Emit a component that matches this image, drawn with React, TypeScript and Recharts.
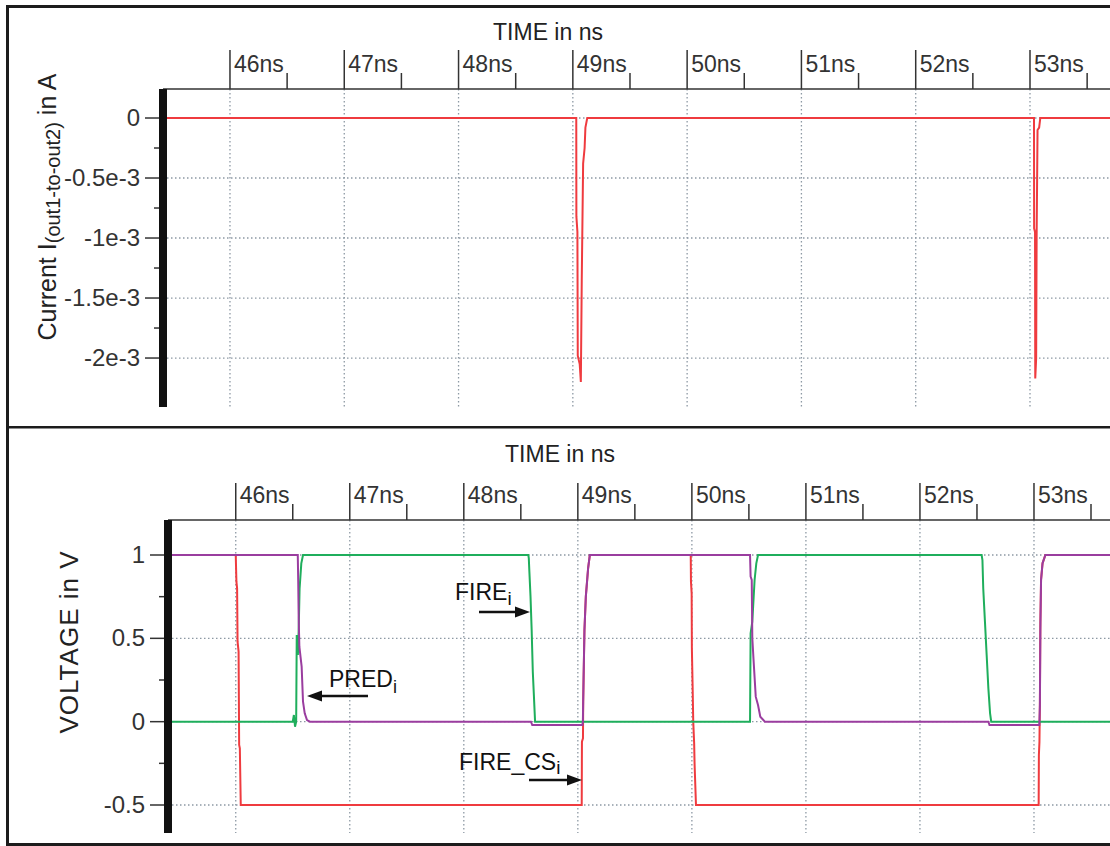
import React from 'react'
import { LineChart, Line, XAxis, YAxis, CartesianGrid } from 'recharts'

// time axis (ns)
const timeTicks = [46, 46.5, 47, 47.5, 48, 48.5, 49, 49.5, 50, 50.5, 51, 51.5, 52, 52.5, 53, 53.5]
const timeMajor = [46, 47, 48, 49, 50, 51, 52, 53]
const timeLabels = ['46ns', '47ns', '48ns', '49ns', '50ns', '51ns', '52ns', '53ns']

// upper panel: current I(out1-to-out2) in A
const curTicks = [0, -0.25e-3, -0.5e-3, -0.75e-3, -1e-3, -1.25e-3, -1.5e-3, -1.75e-3, -2e-3]
const curMajor = [0, -0.5e-3, -1e-3, -1.5e-3, -2e-3]
const curLabels = ['0', '-0.5e-3', '-1e-3', '-1.5e-3', '-2e-3']
const curT = [45.41, 49.03, 49.031, 49.04, 49.043, 49.06, 49.07, 49.078, 49.09, 49.103, 49.11, 49.126, 53.035, 53.036, 53.044, 53.046, 53.054, 53.058, 53.066, 53.08, 53.09, 53.88]
const curA = [0, 0, -0.82e-3, -0.95e-3, -1.98e-3, -2.05e-3, -2.2e-3, -1.35e-3, -0.38e-3, -0.25e-3, -0.08e-3, 0, 0, -0.92e-3, -0.95e-3, -2.17e-3, -2.0e-3, -1.0e-3, -0.1e-3, -0.08e-3, 0, 0]

// lower panel: voltages in V
const voltTicks = [1, 0.75, 0.5, 0.25, 0, -0.25, -0.5]
const voltMajor = [1, 0.5, 0, -0.5]
const voltLabels = ['1', '0.5', '0', '-0.5']

const fireCsT = [45.4, 46.0, 46.006, 46.012, 46.016, 46.025, 46.03, 46.036, 46.044, 49.034, 49.036, 49.045, 49.047, 49.058, 49.07, 49.09, 49.105, 49.99, 49.992, 49.998, 50.0, 50.006, 50.012, 50.02, 50.024, 50.036, 53.041, 53.043, 53.048, 53.052, 53.056, 53.062, 53.075, 53.1, 53.85]
const fireCsV = [1, 1, 0.84, 0.8, 0.48, 0.42, -0.14, -0.16, -0.5, -0.5, -0.12, -0.1, 0.12, 0.55, 0.75, 0.92, 1, 1, 0.84, 0.77, 0.44, 0.23, 0.0, -0.13, -0.26, -0.5, -0.5, -0.2, -0.12, 0.12, 0.6, 0.85, 0.95, 1, 1]

const fireT = [45.4, 46.5, 46.51, 46.52, 46.53, 46.535, 46.545, 46.552, 46.56, 46.575, 46.59, 48.566, 48.57, 48.575, 48.585, 48.595, 48.605, 48.615, 48.625, 50.51, 50.515, 50.53, 50.55, 50.565, 50.58, 52.541, 52.548, 52.555, 52.57, 52.585, 52.6, 52.615, 52.625, 53.85]
const fireV = [0, 0, 0.04, -0.03, 0.0, 0.52, 0.4, 0.55, 0.8, 0.95, 1, 1, 0.98, 0.9, 0.75, 0.55, 0.3, 0.15, 0, 0, 0.53, 0.6, 0.85, 0.95, 1, 1, 0.97, 0.8, 0.6, 0.4, 0.2, 0.05, 0, 0]

const predT = [45.4, 46.544, 46.548, 46.552, 46.558, 46.578, 46.59, 46.605, 46.625, 46.65, 48.589, 48.6, 49.04, 49.044, 49.05, 49.058, 49.07, 49.09, 49.105, 50.51, 50.515, 50.525, 50.53, 50.54, 50.56, 50.58, 50.6, 50.64, 52.6, 52.61, 53.047, 53.052, 53.056, 53.062, 53.075, 53.1, 53.85]
const predV = [1, 1, 0.84, 0.62, 0.45, 0.33, 0.12, 0.05, 0.01, 0, 0, -0.02, -0.02, 0, 0.25, 0.55, 0.75, 0.92, 1, 1, 0.87, 0.85, 0.5, 0.38, 0.15, 0.1, 0.03, 0, 0, -0.02, -0.02, 0.1, 0.55, 0.85, 0.95, 1, 1]

const zip = (t: number[], v: number[]) => t.map((x, i) => ({ t: x, v: v[i] }))

const FONT = '"Liberation Sans", Arial, Helvetica, sans-serif'
const AXIS = '#333'
const GRID = '#8d99a4'
const FRAME = '#1c1c1c'

function timeTick(axisY: number, majorLen: number) {
  return (props: any) => {
    const { x, payload } = props
    const v = payload.value
    const k = timeMajor.indexOf(v)
    return (
      <g>
        <line x1={x} x2={x} y1={axisY - (k >= 0 ? majorLen : 16)} y2={axisY} stroke={AXIS} strokeWidth={1.5} />
        {k >= 0 && (
          <text x={x + 4} y={axisY - 17} fontSize={23} fill={AXIS} fontFamily={FONT}>
            {timeLabels[k]}
          </text>
        )}
      </g>
    )
  }
}

function valueTick(barLeft: number, majors: number[], labels: string[]) {
  return (props: any) => {
    const { y, payload } = props
    const k = majors.findIndex((m) => Math.abs(m - payload.value) < 1e-9)
    return (
      <g>
        <line x1={barLeft - (k >= 0 ? 14 : 5)} x2={barLeft} y1={y} y2={y} stroke={AXIS} strokeWidth={1.5} />
        {k >= 0 && (
          <text x={barLeft - 19} y={y + 8} textAnchor="end" fontSize={24} fill={AXIS} fontFamily={FONT}>
            {labels[k]}
          </text>
        )}
      </g>
    )
  }
}

function Arrow({ x1, x2, y }: { x1: number; x2: number; y: number }) {
  const dir = x2 > x1 ? 1 : -1
  return (
    <g>
      <line x1={x1} x2={x2 - dir * 10} y1={y} y2={y} stroke="#111" strokeWidth={2.5} />
      <polygon points={`${x2},${y} ${x2 - dir * 15},${y - 5.5} ${x2 - dir * 15},${y + 5.5}`} fill="#111" />
    </g>
  )
}

export default function App() {
  const curData = zip(curT, curA)
  const fireCsData = zip(fireCsT, fireCsV)
  const fireData = zip(fireT, fireV)
  const predData = zip(predT, predV)

  return (
    <div style={{ position: 'fixed', left: 0, top: 0, width: 1110, height: 846, overflow: 'hidden', background: '#fff' }}>
      {/* upper panel */}
      <div style={{ position: 'absolute', left: 0, top: 0 }}>
        <LineChart width={1130} height={420} margin={{ top: 49, right: 0, bottom: 13, left: 103 }}>
          <CartesianGrid stroke={GRID} strokeWidth={1.3} strokeDasharray="1.5 2.5" verticalValues={timeMajor} horizontalValues={curMajor} />
          <XAxis
            type="number"
            dataKey="t"
            orientation="top"
            height={40}
            domain={[45.414, 53.875]}
            allowDataOverflow
            ticks={timeTicks}
            interval={0}
            tickLine={false}
            axisLine={{ stroke: AXIS, strokeWidth: 1.5 }}
            tick={timeTick(89, 39)}
          />
          <YAxis
            type="number"
            dataKey="v"
            width={60}
            domain={[-2.408e-3, 0.2417e-3]}
            allowDataOverflow
            ticks={curTicks}
            interval={0}
            tickLine={false}
            axisLine={{ stroke: '#111', strokeWidth: 8 }}
            tick={valueTick(159, curMajor, curLabels)}
          />
          <Line data={curData} dataKey="v" type="linear" stroke="#ef3b3f" strokeWidth={2} dot={false} isAnimationActive={false} />
        </LineChart>
      </div>

      {/* lower panel */}
      <div style={{ position: 'absolute', left: 0, top: 430 }}>
        <LineChart width={1130} height={410} margin={{ top: 50, right: 0, bottom: 7, left: 108 }}>
          <CartesianGrid stroke={GRID} strokeWidth={1.3} strokeDasharray="1.5 2.5" verticalValues={timeMajor} horizontalValues={voltMajor} />
          <XAxis
            type="number"
            dataKey="t"
            orientation="top"
            height={40}
            domain={[45.406, 53.842]}
            allowDataOverflow
            ticks={timeTicks}
            interval={0}
            tickLine={false}
            axisLine={{ stroke: AXIS, strokeWidth: 1.5 }}
            tick={timeTick(90, 37)}
          />
          <YAxis
            type="number"
            dataKey="v"
            width={60}
            domain={[-0.668, 1.21]}
            allowDataOverflow
            ticks={voltTicks}
            interval={0}
            tickLine={false}
            axisLine={{ stroke: '#111', strokeWidth: 8 }}
            tick={valueTick(164, voltMajor, voltLabels)}
          />
          <Line data={fireCsData} dataKey="v" type="linear" stroke="#ef3b3f" strokeWidth={2} dot={false} isAnimationActive={false} />
          <Line data={fireData} dataKey="v" type="linear" stroke="#1fae5c" strokeWidth={2} dot={false} isAnimationActive={false} />
          <Line data={predData} dataKey="v" type="linear" stroke="#9a3d9f" strokeWidth={2} dot={false} isAnimationActive={false} />
        </LineChart>
      </div>

      {/* titles, axis names, annotations and the frame */}
      <svg width={1110} height={846} style={{ position: 'absolute', zIndex: 3, left: 0, top: 0, pointerEvents: 'none' }} fontFamily={FONT}>
        <rect x={6} y={5} width={1200} height={3} fill={FRAME} />
        <rect x={6} y={5} width={3} height={841} fill={FRAME} />
        <rect x={6} y={426} width={1200} height={2.5} fill={FRAME} />
        <rect x={6} y={843} width={1200} height={3} fill={FRAME} />

        <text x={548} y={40} textAnchor="middle" fontSize={23} fill="#222">TIME in ns</text>
        <text x={560} y={462} textAnchor="middle" fontSize={23} fill="#222">TIME in ns</text>

        <text transform="translate(56,207) rotate(-90)" textAnchor="middle" fontSize={25} fill="#222">
          Current I<tspan fontSize={20} dy={4}>(out1-to-out2)</tspan>
          <tspan dy={-4}> in A</tspan>
        </text>
        <text transform="translate(78,642) rotate(-90)" textAnchor="middle" fontSize={26} letterSpacing={1} fill="#222">
          VOLTAGE in V
        </text>

        <text x={455} y={600} fontSize={23} fill="#111">
          FIRE<tspan fontSize={19} dy={5}>i</tspan>
        </text>
        <Arrow x1={479} x2={530} y={612} />

        <text x={329} y={687} fontSize={23} fill="#111">
          PRED<tspan fontSize={18} dy={6}>i</tspan>
        </text>
        <Arrow x1={368} x2={307} y={696} />

        <text x={459} y={770} fontSize={23} fill="#111">
          FIRE_CS<tspan fontSize={19} dy={4}>i</tspan>
        </text>
        <Arrow x1={529} x2={582} y={780} />
      </svg>
    </div>
  )
}
